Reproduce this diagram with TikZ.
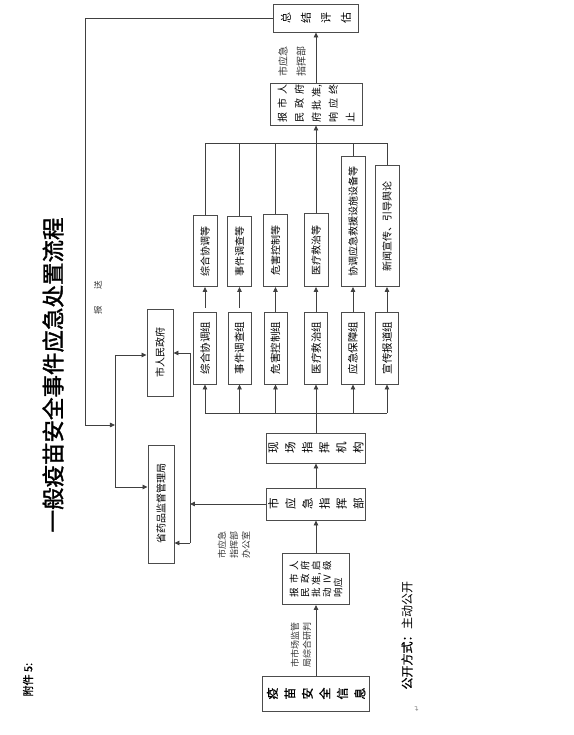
\documentclass[tikz,border=0pt]{standalone}
\usepackage{fontspec}
\setmainfont{Noto Sans CJK SC}
\newfontfamily\heavyfont{Noto Sans CJK SC}[FakeBold=1.6]
\newfontfamily\semifont{Noto Sans CJK SC}[FakeBold=0.8]
\newfontfamily\symfont{DejaVu Sans}
\usetikzlibrary{arrows.meta,positioning,calc}

\newcommand{\spread}[2]{\makebox[#1][s]{#2}}

\begin{document}
\begin{tikzpicture}[x=1pt, y=1pt, rotate=90, transform shape,
  every node/.style={font=\fontsize{10}{12}\selectfont},
  box/.style={draw=black!70, line width=0.9pt, inner sep=1pt, align=center},
  grp/.style={box, minimum width=72pt, minimum height=23pt, font=\fontsize{10.5}{12}\selectfont},
  task/.style={box, minimum height=24pt, anchor=west},
  col/.style={box, font=\fontsize{11.5}{17}\selectfont},
  link/.style={draw=black!75, line width=0.8pt},
  arr/.style={link, -{Triangle[length=5pt,width=4.5pt]}},
  lbl/.style={align=left, text=black!80, font=\fontsize{9}{12}\selectfont}]

  \useasboundingbox (0,0) rectangle (735,573);

  % heading
  \node[anchor=west, font=\semifont\fontsize{11}{13}\selectfont] (att) at (35,545) {附件 5:};
  \node[font=\heavyfont\fontsize{22.5}{24}\selectfont] (title) at (360,520) {一般疫苗安全事件应急处置流程};

  % main column
  \node[col, font=\semifont\fontsize{12}{17.5}\selectfont, minimum width=35pt, minimum height=107pt] (info) at (41.5,257) {疫\\苗\\安\\全\\信\\息};
  \node[box, align=left, minimum width=51pt, minimum height=67pt, font=\fontsize{9.5}{11}\selectfont] (report) at (156,257)
    {\spread{37pt}{报\hfill 市\hfill 人}\\ \spread{37pt}{民\hfill 政\hfill 府}\\ \spread{37pt}{批\hfill 准,\hfill 启}\\ \spread{37pt}{动\hfill IV\hfill 级}\\ 响应};
  \node[col, minimum width=32pt, minimum height=99pt] (cmd) at (231,257) {市\\应\\急\\指\\挥\\部};
  \node[col, minimum width=30pt, minimum height=99pt] (site) at (287,257) {现\\场\\指\\挥\\机\\构};

  % groups
  \node[grp] (g1) at (387,368) {综合协调组};
  \node[grp] (g2) at (387,333.5) {事件调查组};
  \node[grp] (g3) at (387,297.5) {危害控制组};
  \node[grp] (g4) at (387,257) {医疗救治组};
  \node[grp] (g5) at (387,220) {应急保障组};
  \node[grp] (g6) at (387,186) {宣传报道组};

  % tasks
  \node[task, minimum width=71pt] (t1) at (448,368) {综合协调等};
  \node[task, minimum width=70pt] (t2) at (448,333.5) {事件调查等};
  \node[task, minimum width=72pt] (t3) at (448,297.5) {危害控制等};
  \node[task, minimum width=73pt] (t4) at (448,257) {医疗救治等};
  \node[task, minimum width=130pt] (t5) at (448,220) {协调应急救援设施设备等};
  \node[task, minimum width=121pt] (t6) at (448,186) {新闻宣传、引导舆论};

  \node[box, align=left, minimum width=42pt, minimum height=92pt, font=\fontsize{10}{17}\selectfont] (end) at (631,257)
    {\spread{38pt}{报\hfill 市\hfill 人}\\ \spread{38pt}{民\hfill 政\hfill 府}\\ \spread{38pt}{府\hfill 批\hfill 准,}\\ \spread{38pt}{响\hfill 应\hfill 终}\\ 止};
  \node[col, minimum width=28pt, minimum height=85pt, font=\fontsize{11}{20}\selectfont] (eval) at (717,257) {总\\结\\评\\估};

  % left side
  \node[box, minimum width=87pt, minimum height=26pt] (city) at (382,413) {市人民政府};
  \node[box, minimum width=118pt, minimum height=26pt] (prov) at (231,412) {省药品监督管理局};

  % labels
  \node[lbl] (l1) at (90,272) {市市场监管\\局综合研判};
  \node[lbl] (l2) at (190,339) {市应急\\指挥部\\办公室};
  \node[lbl, font=\fontsize{10}{18}\selectfont] (l3) at (673,281) {市应急\\指挥部};
  \node[lbl, font=\fontsize{8.5}{10}\selectfont] (l4) at (437,475) {报\hspace{16pt}送};
  \node[anchor=west, font=\fontsize{12}{14}\selectfont] (pub) at (42,166) {{\semifont 公开方式：}主动公开};
  \node[text=black!50, font=\symfont\fontsize{7}{8}\selectfont] (ret) at (26,156) {↵};

  % bends
  \foreach \i/\y in {1/368,2/333.5,3/297.5,4/257,5/220,6/186} {
    \coordinate (bb\i) at (322,\y);
    \coordinate (tb\i) at (592,\y);
  }
  \coordinate (rb1) at (382,383);
  \coordinate (rb2) at (192,383);
  \coordinate (lb1) at (380,458);
  \coordinate (lb2) at (248,458);
  \coordinate (send1) at (717,488);
  \coordinate (send2) at (310,488);
  \coordinate (send3) at (310,458);

  % connectors
  \draw[arr] (info) -- (report);
  \draw[arr] (report) -- (cmd);
  \draw[arr] (cmd) -- (site);
  \draw[link] (site) -- (bb4);
  \draw[link] (bb1) -- (bb6);
  \foreach \i in {1,...,6}
    \draw[arr] (bb\i) -- (g\i);
  \draw[arr, shorten <=4pt] (g1) -- (t1);
  \draw[arr, shorten <=4pt] (g2) -- (t2);
  \foreach \i in {3,...,6}
    \draw[arr] (g\i) -- (t\i);
  \foreach \i in {1,...,6}
    \draw[link] (t\i) -- (tb\i);
  \draw[link] (tb1) -- (tb6);
  \draw[arr] (tb4) -- (end);
  \draw[arr] (end) -- (eval);
  \draw[arr] (eval) -- (send1) -- (send2) -- (send3);
  \draw[link] (lb1) -- (lb2);
  \draw[arr] (lb1) -- (lb1 |- city.north);
  \draw[arr] (lb2) -- (lb2 |- prov.north);
  \draw[arr] (cmd) -- (cmd |- rb1);
  \draw[link] (rb1) -- (rb2);
  \draw[arr] (rb1) -- (rb1 |- city.south);
  \draw[arr] (rb2) -- (rb2 |- prov.south);
\end{tikzpicture}
\end{document}
